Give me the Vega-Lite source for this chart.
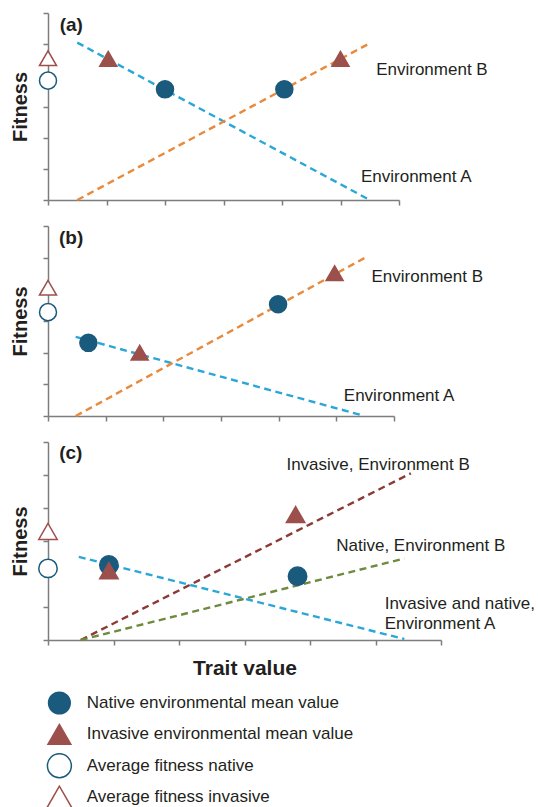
{
  "$schema": "https://vega.github.io/schema/vega-lite/v6.json",
  "padding": {"left": 10, "top": 12, "right": 0, "bottom": 0},
  "background": "white",
  "config": {
    "view": {"stroke": null},
    "font": "Liberation Sans",
    "axis": {
      "labels": false, "grid": false,
      "domainColor": "#7d7d7d", "tickColor": "#7d7d7d",
      "domainWidth": 1.5, "tickWidth": 1.5, "tickSize": 5,
      "titleFont": "Liberation Sans", "titleFontWeight": "bold",
      "titleColor": "#231f20", "titleFontSize": 20
    },
    "text": {"font": "Liberation Sans", "color": "#231f20", "fontSize": 17}
  },
  "datasets": {
    "points": [
      {"panel": "a", "kind": "Native mean", "x": 2.0, "y": 3.55},
      {"panel": "a", "kind": "Native mean", "x": 4.04, "y": 3.55},
      {"panel": "a", "kind": "Avg native", "x": 0, "y": 3.83},
      {"panel": "a", "kind": "Invasive mean", "x": 1.03, "y": 4.53},
      {"panel": "a", "kind": "Invasive mean", "x": 5.0, "y": 4.53},
      {"panel": "a", "kind": "Avg invasive", "x": 0, "y": 4.55},
      {"panel": "b", "kind": "Native mean", "x": 0.7, "y": 2.31},
      {"panel": "b", "kind": "Native mean", "x": 3.99, "y": 3.53},
      {"panel": "b", "kind": "Avg native", "x": 0, "y": 3.28},
      {"panel": "b", "kind": "Invasive mean", "x": 1.59, "y": 2.0},
      {"panel": "b", "kind": "Invasive mean", "x": 4.97, "y": 4.51},
      {"panel": "b", "kind": "Avg invasive", "x": 0, "y": 4.05},
      {"panel": "c", "kind": "Native mean", "x": 0.93, "y": 2.27},
      {"panel": "c", "kind": "Native mean", "x": 3.81, "y": 1.93},
      {"panel": "c", "kind": "Avg native", "x": 0, "y": 2.17},
      {"panel": "c", "kind": "Invasive mean", "x": 0.93, "y": 2.1},
      {"panel": "c", "kind": "Invasive mean", "x": 3.78, "y": 3.8},
      {"panel": "c", "kind": "Avg invasive", "x": 0, "y": 3.29}
    ],
    "lines": [
      {"panel": "a", "series": "A", "x": 0.5, "y": 5.05},
      {"panel": "a", "series": "A", "x": 5.5, "y": 0},
      {"panel": "a", "series": "B", "x": 0.5, "y": 0},
      {"panel": "a", "series": "B", "x": 5.52, "y": 5.05},
      {"panel": "b", "series": "A", "x": 0.48, "y": 2.5},
      {"panel": "b", "series": "A", "x": 5.45, "y": 0.02},
      {"panel": "b", "series": "B", "x": 0.48, "y": 0},
      {"panel": "b", "series": "B", "x": 5.5, "y": 5.0},
      {"panel": "c", "series": "A", "x": 0.47, "y": 2.52},
      {"panel": "c", "series": "A", "x": 5.44, "y": 0.03},
      {"panel": "c", "series": "Invasive B", "x": 0.5, "y": 0},
      {"panel": "c", "series": "Invasive B", "x": 5.54, "y": 5.05},
      {"panel": "c", "series": "Native B", "x": 0.5, "y": 0},
      {"panel": "c", "series": "Native B", "x": 5.44, "y": 2.47}
    ],
    "labels": [
      {"panel": "a", "text": "Environment B", "x": 5.61, "y": 4.18},
      {"panel": "a", "text": "Environment A", "x": 5.35, "y": 0.75},
      {"panel": "b", "text": "Environment B", "x": 5.61, "y": 4.4},
      {"panel": "b", "text": "Environment A", "x": 5.13, "y": 0.63},
      {"panel": "c", "text": "Invasive, Environment B", "x": 3.64, "y": 5.3},
      {"panel": "c", "text": "Native, Environment B", "x": 4.4, "y": 2.86},
      {"panel": "c", "text": "Invasive and native,", "x": 5.14, "y": 1.09},
      {"panel": "c", "text": "Environment A", "x": 5.14, "y": 0.48}
    ],
    "tags": [
      {"panel": "a", "text": "(a)", "x": 0.2, "y": 5.63},
      {"panel": "b", "text": "(b)", "x": 0.19, "y": 5.63},
      {"panel": "c", "text": "(c)", "x": 0.17, "y": 5.68}
    ],
    "legend": [
      {"kind": "Native mean", "item": "Native environmental mean value"},
      {"kind": "Invasive mean", "item": "Invasive environmental mean value"},
      {"kind": "Avg native", "item": "Average fitness native"},
      {"kind": "Avg invasive", "item": "Average fitness invasive"}
    ]
  },
  "spacing": 10,
  "vconcat": [
    {
      "spacing": 19,
      "vconcat": [
        {
          "width": 351, "height": 187,
          "layer": [
            {
              "data": {"name": "lines"},
              "transform": [{"filter": "datum.panel == 'a'"}],
              "mark": {"type": "line", "strokeDash": [7, 4.5], "strokeWidth": 2.4},
              "encoding": {
                "x": {"field": "x", "type": "quantitative", "scale": {"domain": [0, 6], "nice": false, "zero": false}, "axis": {"title": null, "values": [0, 1, 2, 3, 4, 5, 6]}},
                "y": {"field": "y", "type": "quantitative", "scale": {"domain": [0, 6], "nice": false}, "axis": {"title": "Fitness", "titlePadding": 12, "tickCount": 7, "values": [0, 1, 2, 3, 4, 5, 6]}},
                "color": {"field": "series", "type": "nominal", "scale": {"domain": ["A", "B", "Invasive B", "Native B"], "range": ["#2aa7d7", "#e8893b", "#8b3a35", "#6e8b3d"]}, "legend": null}
              }
            },
            {
              "data": {"name": "points"},
              "transform": [{"filter": "datum.panel == 'a'"}],
              "mark": {"type": "point", "filled": true, "strokeWidth": 1.5, "opacity": 1, "size": 290},
              "encoding": {
                "x": {"field": "x", "type": "quantitative"},
                "y": {"field": "y", "type": "quantitative"},
                "shape": {"field": "kind", "type": "nominal", "scale": {"domain": ["Native mean", "Invasive mean", "Avg native", "Avg invasive"], "range": ["circle", "triangle-up", "circle", "triangle-up"]}, "legend": null},
                "fill": {"field": "kind", "type": "nominal", "scale": {"domain": ["Native mean", "Invasive mean", "Avg native", "Avg invasive"], "range": ["#1a5a7d", "#9c504c", "#ffffff", "#ffffff"]}, "legend": null},
                "stroke": {"field": "kind", "type": "nominal", "scale": {"domain": ["Native mean", "Invasive mean", "Avg native", "Avg invasive"], "range": ["#1a5a7d", "#9c504c", "#1a5a7d", "#9c504c"]}, "legend": null}
              }
            },
            {
              "data": {"name": "labels"},
              "transform": [{"filter": "datum.panel == 'a'"}],
              "mark": {"type": "text", "align": "left", "baseline": "middle"},
              "encoding": {
                "x": {"field": "x", "type": "quantitative"},
                "y": {"field": "y", "type": "quantitative"},
                "text": {"field": "text"}
              }
            },
            {
              "data": {"name": "tags"},
              "transform": [{"filter": "datum.panel == 'a'"}],
              "mark": {"type": "text", "align": "left", "baseline": "middle", "fontWeight": "bold", "fontSize": 19},
              "encoding": {
                "x": {"field": "x", "type": "quantitative"},
                "y": {"field": "y", "type": "quantitative"},
                "text": {"field": "text"}
              }
            }
          ]
        },
        {
          "width": 346, "height": 190,
          "layer": [
            {
              "data": {"name": "lines"},
              "transform": [{"filter": "datum.panel == 'b'"}],
              "mark": {"type": "line", "strokeDash": [7, 4.5], "strokeWidth": 2.4},
              "encoding": {
                "x": {"field": "x", "type": "quantitative", "scale": {"domain": [0, 6], "nice": false, "zero": false}, "axis": {"title": null, "values": [0, 1, 2, 3, 4, 5, 6]}},
                "y": {"field": "y", "type": "quantitative", "scale": {"domain": [0, 6], "nice": false}, "axis": {"title": "Fitness", "titlePadding": 12, "tickCount": 7, "values": [0, 1, 2, 3, 4, 5, 6]}},
                "color": {"field": "series", "type": "nominal", "scale": {"domain": ["A", "B", "Invasive B", "Native B"], "range": ["#2aa7d7", "#e8893b", "#8b3a35", "#6e8b3d"]}, "legend": null}
              }
            },
            {
              "data": {"name": "points"},
              "transform": [{"filter": "datum.panel == 'b'"}],
              "mark": {"type": "point", "filled": true, "strokeWidth": 1.5, "opacity": 1, "size": 290},
              "encoding": {
                "x": {"field": "x", "type": "quantitative"},
                "y": {"field": "y", "type": "quantitative"},
                "shape": {"field": "kind", "type": "nominal", "scale": {"domain": ["Native mean", "Invasive mean", "Avg native", "Avg invasive"], "range": ["circle", "triangle-up", "circle", "triangle-up"]}, "legend": null},
                "fill": {"field": "kind", "type": "nominal", "scale": {"domain": ["Native mean", "Invasive mean", "Avg native", "Avg invasive"], "range": ["#1a5a7d", "#9c504c", "#ffffff", "#ffffff"]}, "legend": null},
                "stroke": {"field": "kind", "type": "nominal", "scale": {"domain": ["Native mean", "Invasive mean", "Avg native", "Avg invasive"], "range": ["#1a5a7d", "#9c504c", "#1a5a7d", "#9c504c"]}, "legend": null}
              }
            },
            {
              "data": {"name": "labels"},
              "transform": [{"filter": "datum.panel == 'b'"}],
              "mark": {"type": "text", "align": "left", "baseline": "middle"},
              "encoding": {
                "x": {"field": "x", "type": "quantitative"},
                "y": {"field": "y", "type": "quantitative"},
                "text": {"field": "text"}
              }
            },
            {
              "data": {"name": "tags"},
              "transform": [{"filter": "datum.panel == 'b'"}],
              "mark": {"type": "text", "align": "left", "baseline": "middle", "fontWeight": "bold", "fontSize": 19},
              "encoding": {
                "x": {"field": "x", "type": "quantitative"},
                "y": {"field": "y", "type": "quantitative"},
                "text": {"field": "text"}
              }
            }
          ]
        },
        {
          "width": 393, "height": 198,
          "layer": [
            {
              "data": {"name": "lines"},
              "transform": [{"filter": "datum.panel == 'c'"}],
              "mark": {"type": "line", "strokeDash": [7, 4.5], "strokeWidth": 2.4},
              "encoding": {
                "x": {"field": "x", "type": "quantitative", "scale": {"domain": [0, 6], "nice": false, "zero": false}, "axis": {"title": "Trait value", "titleFontSize": 21, "titlePadding": 12, "values": [0, 1, 2, 3, 4, 5, 6]}},
                "y": {"field": "y", "type": "quantitative", "scale": {"domain": [0, 6], "nice": false}, "axis": {"title": "Fitness", "titlePadding": 12, "tickCount": 7, "values": [0, 1, 2, 3, 4, 5, 6]}},
                "color": {"field": "series", "type": "nominal", "scale": {"domain": ["A", "B", "Invasive B", "Native B"], "range": ["#2aa7d7", "#e8893b", "#8b3a35", "#6e8b3d"]}, "legend": null}
              }
            },
            {
              "data": {"name": "points"},
              "transform": [{"filter": "datum.panel == 'c'"}],
              "mark": {"type": "point", "filled": true, "strokeWidth": 1.5, "opacity": 1, "size": 340},
              "encoding": {
                "x": {"field": "x", "type": "quantitative"},
                "y": {"field": "y", "type": "quantitative"},
                "shape": {"field": "kind", "type": "nominal", "scale": {"domain": ["Native mean", "Invasive mean", "Avg native", "Avg invasive"], "range": ["circle", "triangle-up", "circle", "triangle-up"]}, "legend": null},
                "fill": {"field": "kind", "type": "nominal", "scale": {"domain": ["Native mean", "Invasive mean", "Avg native", "Avg invasive"], "range": ["#1a5a7d", "#9c504c", "#ffffff", "#ffffff"]}, "legend": null},
                "stroke": {"field": "kind", "type": "nominal", "scale": {"domain": ["Native mean", "Invasive mean", "Avg native", "Avg invasive"], "range": ["#1a5a7d", "#9c504c", "#1a5a7d", "#9c504c"]}, "legend": null}
              }
            },
            {
              "data": {"name": "labels"},
              "transform": [{"filter": "datum.panel == 'c'"}],
              "mark": {"type": "text", "align": "left", "baseline": "middle"},
              "encoding": {
                "x": {"field": "x", "type": "quantitative"},
                "y": {"field": "y", "type": "quantitative"},
                "text": {"field": "text"}
              }
            },
            {
              "data": {"name": "tags"},
              "transform": [{"filter": "datum.panel == 'c'"}],
              "mark": {"type": "text", "align": "left", "baseline": "middle", "fontWeight": "bold", "fontSize": 19},
              "encoding": {
                "x": {"field": "x", "type": "quantitative"},
                "y": {"field": "y", "type": "quantitative"},
                "text": {"field": "text"}
              }
            }
          ]
        }
      ]
    },
    {
      "width": 300, "height": 94,
      "data": {"name": "legend"},
      "layer": [
        {
          "mark": {"type": "point", "filled": true, "strokeWidth": 1.5, "opacity": 1},
          "encoding": {
            "x": {"datum": 0.38, "type": "quantitative", "scale": {"domain": [0, 10], "nice": false, "zero": false}, "axis": null},
            "y": {"field": "item", "type": "ordinal", "sort": ["Native environmental mean value", "Invasive environmental mean value", "Average fitness native", "Average fitness invasive"], "scale": {"type": "point", "padding": 0}, "axis": null},
            "shape": {"field": "kind", "type": "nominal", "scale": {"domain": ["Native mean", "Invasive mean", "Avg native", "Avg invasive"], "range": ["circle", "triangle-up", "circle", "triangle-up"]}, "legend": null},
            "fill": {"field": "kind", "type": "nominal", "scale": {"domain": ["Native mean", "Invasive mean", "Avg native", "Avg invasive"], "range": ["#1a5a7d", "#9c504c", "#ffffff", "#ffffff"]}, "legend": null},
            "stroke": {"field": "kind", "type": "nominal", "scale": {"domain": ["Native mean", "Invasive mean", "Avg native", "Avg invasive"], "range": ["#1a5a7d", "#9c504c", "#1a5a7d", "#9c504c"]}, "legend": null},
            "size": {"field": "kind", "type": "ordinal", "scale": {"domain": ["Native mean", "Invasive mean", "Avg native", "Avg invasive"], "range": [470, 625, 360, 660]}, "legend": null}
          }
        },
        {
          "mark": {"type": "text", "align": "left", "baseline": "middle", "fontSize": 17},
          "encoding": {
            "x": {"datum": 1.29, "type": "quantitative"},
            "y": {"field": "item", "type": "ordinal", "sort": ["Native environmental mean value", "Invasive environmental mean value", "Average fitness native", "Average fitness invasive"]},
            "text": {"field": "item"}
          }
        }
      ]
    }
  ]
}
